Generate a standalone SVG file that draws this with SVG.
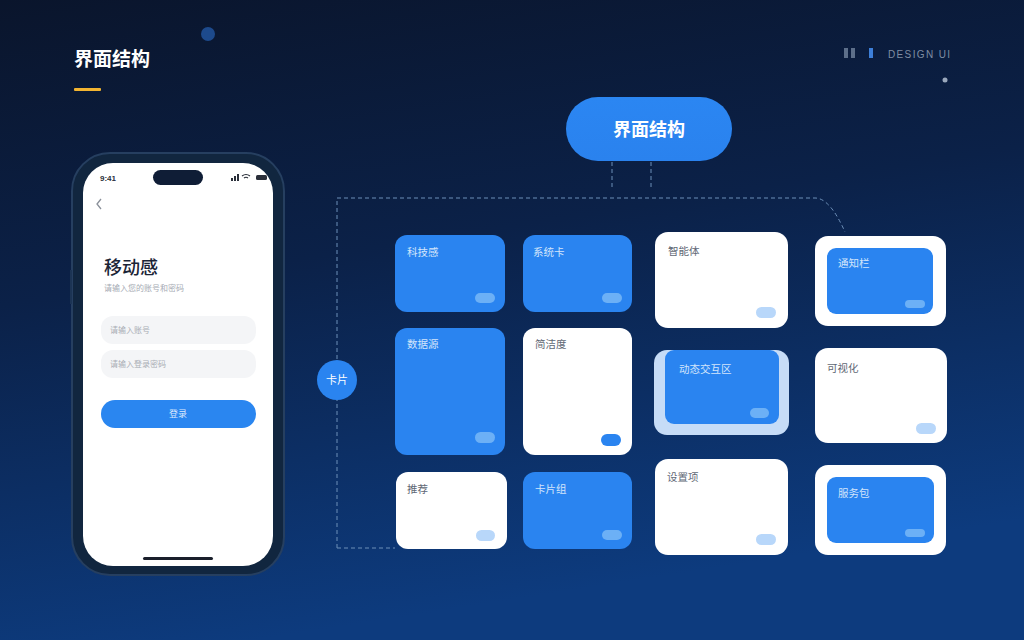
<svg xmlns="http://www.w3.org/2000/svg" width="1024" height="640" viewBox="0 0 1024 640">
<defs>
<linearGradient id="bg" x1="0" y1="0" x2="0.25" y2="1">
<stop offset="0" stop-color="#0a152c"/>
<stop offset="0.45" stop-color="#0b2148"/>
<stop offset="1" stop-color="#0d3b7e"/>
</linearGradient>
<linearGradient id="blue" x1="0" y1="0" x2="0" y2="1">
<stop offset="0" stop-color="#2b86f2"/>
<stop offset="1" stop-color="#2a82ee"/>
</linearGradient>
<style>
.cjk{font-family:"Noto Sans CJK SC","Noto Sans",sans-serif}
.bc{fill:#2a84f0}
.wc{fill:#ffffff}
.lb{font-size:10.5px;fill:#d3e4fb}
.ld{font-size:10.5px;fill:#5f6875}
.pl{fill:#6cb0f6}
.pw{fill:#b8d7fa}
.pb{fill:#2a84f0}
.dash{fill:none;stroke:#6d8fb8;stroke-width:1;stroke-dasharray:4 3}
</style>
</defs>
<rect width="1024" height="640" fill="url(#bg)"/>

<g id="header">
<text x="74" y="66" class="cjk" font-size="19" font-weight="700" fill="#ffffff">界面结构</text>
<rect x="74" y="88" width="27" height="3" rx="1" fill="#f2b431"/>
<circle cx="208" cy="34" r="7" fill="#1d4a8c"/>
<rect x="844" y="48" width="4" height="10" fill="#5d6f8a"/>
<rect x="851" y="48" width="4" height="10" fill="#5d6f8a"/>
<rect x="869" y="48" width="4" height="10" fill="#3d7fd8"/>
<text x="888" y="58" font-family="Liberation Sans, sans-serif" font-size="10" fill="#7f8da3" textLength="62">DESIGN UI</text>
<circle cx="945" cy="80" r="2.5" fill="#9aa8bc"/>
</g>

<g id="phone">
<rect x="72" y="153" width="212" height="422" rx="38" fill="#11263f" stroke="#263f60" stroke-width="2"/>
<rect x="70" y="270" width="2" height="34" fill="#1c3454"/>
<rect x="83" y="163" width="190" height="403" rx="30" fill="#ffffff"/>
<rect x="153" y="170" width="50" height="15" rx="7.5" fill="#0f1d36"/>
<text x="100" y="181" font-family="Liberation Sans, sans-serif" font-size="8" font-weight="700" fill="#2a2f3a">9:41</text>
<rect x="231" y="178" width="2" height="3" fill="#2a2f3a"/>
<rect x="234" y="176" width="2" height="5" fill="#2a2f3a"/>
<rect x="237" y="174" width="2" height="7" fill="#2a2f3a"/>
<path d="M242 176 q4 -3 8 0 M244 178 q2 -1.5 4 0" fill="none" stroke="#2a2f3a" stroke-width="1.2"/>
<rect x="256" y="175" width="11" height="5" rx="1.5" fill="#2a2f3a"/>
<path d="M101 199 l-4 5 l4 5" fill="none" stroke="#8a909a" stroke-width="1.3"/>
<text x="104" y="274" class="cjk" font-size="18" font-weight="500" fill="#1b2436">移动感</text>
<text x="104" y="291" class="cjk" font-size="8" fill="#a6abb4">请输入您的账号和密码</text>
<rect x="101" y="316" width="155" height="28" rx="12" fill="#f4f5f7"/>
<text x="110" y="333" class="cjk" font-size="8" fill="#a9adb5">请输入账号</text>
<rect x="101" y="350" width="155" height="28" rx="12" fill="#f4f5f7"/>
<text x="110" y="367" class="cjk" font-size="8" fill="#a9adb5">请输入登录密码</text>
<rect x="101" y="400" width="155" height="28" rx="14" fill="#2a86f0"/>
<text x="178" y="417" class="cjk" font-size="9" fill="#dfeafc" text-anchor="middle">登录</text>
<rect x="143" y="557" width="70" height="3" rx="1.5" fill="#1a1f2b"/>
</g>

<g id="connectors">
<path class="dash" d="M612 162 V190"/>
<path class="dash" d="M651 162 V190"/>
<path class="dash" d="M337 548 V198 H815 Q830 198 845 232"/>
<path class="dash" d="M337 548 H395"/>
</g>

<g id="root-node">
<rect x="566" y="97" width="166" height="64" rx="32" fill="url(#blue)"/>
<text x="649" y="136" class="cjk" font-size="18" font-weight="700" fill="#ffffff" text-anchor="middle">界面结构</text>
</g>

<g id="card-node">
<circle cx="337" cy="380" r="20" fill="#2a84f0"/>
<text x="337" y="384" class="cjk" font-size="11" fill="#ffffff" text-anchor="middle">卡片</text>
</g>

<g id="card-a">
<rect x="395" y="235" width="110" height="77" rx="12" class="bc"/>
<text x="407" y="256" class="cjk lb">科技感</text>
<rect x="475" y="293" width="20" height="10" rx="5" class="pl"/>
</g>
<g id="card-b">
<rect x="523" y="235" width="109" height="77" rx="12" class="bc"/>
<text x="533" y="256" class="cjk lb">系统卡</text>
<rect x="602" y="293" width="20" height="10" rx="5" class="pl"/>
</g>
<g id="card-c">
<rect x="395" y="328" width="110" height="127" rx="12" class="bc"/>
<text x="407" y="348" class="cjk lb">数据源</text>
<rect x="475" y="432" width="20" height="11" rx="5.5" class="pl"/>
</g>
<g id="card-d">
<rect x="523" y="328" width="109" height="127" rx="12" class="wc"/>
<text x="535" y="348" class="cjk ld">简洁度</text>
<rect x="601" y="434" width="20" height="12" rx="6" class="pb"/>
</g>
<g id="card-e">
<rect x="396" y="472" width="111" height="77" rx="12" class="wc"/>
<text x="407" y="493" class="cjk ld">推荐</text>
<rect x="476" y="530" width="19" height="11" rx="5.5" class="pw"/>
</g>
<g id="card-f">
<rect x="523" y="472" width="109" height="77" rx="12" class="bc"/>
<text x="535" y="493" class="cjk lb">卡片组</text>
<rect x="602" y="530" width="20" height="10" rx="5" class="pl"/>
</g>
<g id="card-g">
<rect x="655" y="232" width="133" height="96" rx="13" class="wc"/>
<text x="668" y="255" class="cjk ld">智能体</text>
<rect x="756" y="307" width="20" height="11" rx="5.5" class="pw"/>
</g>
<g id="card-h">
<rect x="815" y="236" width="131" height="90" rx="13" class="wc"/>
<rect x="827" y="248" width="106" height="66" rx="9" class="bc"/>
<text x="838" y="267" class="cjk lb">通知栏</text>
<rect x="905" y="300" width="20" height="8" rx="4" class="pl"/>
</g>
<g id="card-i">
<rect x="654" y="350" width="135" height="85" rx="13" fill="#c6dcf7"/>
<rect x="665" y="350" width="114" height="74" rx="9" class="bc"/>
<text x="679" y="373" class="cjk lb">动态交互区</text>
<rect x="750" y="408" width="19" height="10" rx="5" class="pl"/>
</g>
<g id="card-j">
<rect x="815" y="348" width="132" height="95" rx="13" class="wc"/>
<text x="827" y="372" class="cjk ld">可视化</text>
<rect x="916" y="423" width="20" height="11" rx="5.5" class="pw"/>
</g>
<g id="card-k">
<rect x="655" y="459" width="133" height="96" rx="13" class="wc"/>
<text x="667" y="481" class="cjk ld">设置项</text>
<rect x="756" y="534" width="20" height="11" rx="5.5" class="pw"/>
</g>
<g id="card-l">
<rect x="815" y="465" width="131" height="90" rx="13" class="wc"/>
<rect x="827" y="477" width="107" height="66" rx="9" class="bc"/>
<text x="838" y="497" class="cjk lb">服务包</text>
<rect x="905" y="529" width="20" height="8" rx="4" class="pl"/>
</g>
</svg>
